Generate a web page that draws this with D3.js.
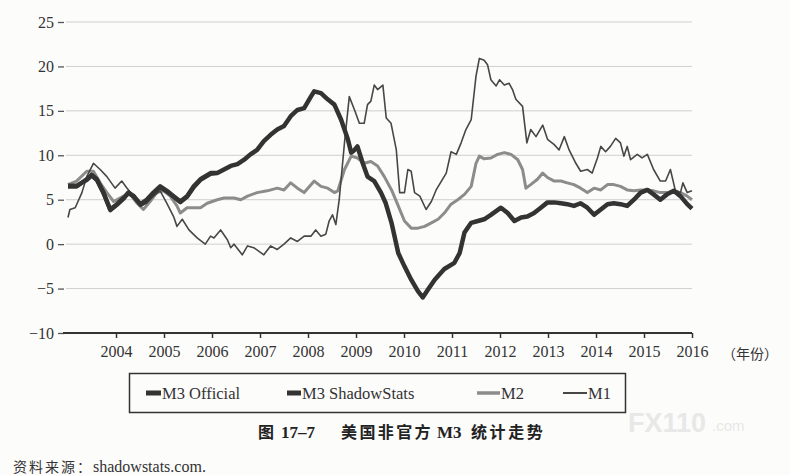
<!DOCTYPE html>
<html>
<head>
<meta charset="utf-8">
<script src="https://cdn.jsdelivr.net/npm/d3@7"></script>
<style>
  body { margin: 0; background: #fcfcfb; }
  svg { display: block; }
</style>
</head>
<body>
<div id="chart"></div>
<script>
// year ticks on the x axis
var years = [2004, 2005, 2006, 2007, 2008, 2009, 2010, 2011, 2012, 2013, 2014, 2015, 2016];
var yTicks = [25, 20, 15, 10, 5, 0, -5, -10];

// M3 ShadowStats (thick dark) as [decimal year, %]
var shadowDates = [2003.00, 2003.18, 2003.39, 2003.49, 2003.60, 2003.74, 2003.88, 2004.02, 2004.16, 2004.26,
  2004.37, 2004.51, 2004.64, 2004.78, 2004.92, 2005.06, 2005.20, 2005.34, 2005.48, 2005.62,
  2005.76, 2005.97, 2006.11, 2006.25, 2006.39, 2006.53, 2006.67, 2006.80, 2006.94, 2007.08,
  2007.22, 2007.36, 2007.50, 2007.64, 2007.78, 2007.92, 2008.06, 2008.13, 2008.27, 2008.41,
  2008.55, 2008.69, 2008.83, 2008.90, 2008.97, 2009.03, 2009.14, 2009.24, 2009.38, 2009.52,
  2009.62, 2009.74, 2009.88, 2010.01, 2010.15, 2010.29, 2010.39, 2010.50, 2010.64, 2010.84,
  2011.05, 2011.16, 2011.26, 2011.40, 2011.54, 2011.67, 2011.81, 2012.02, 2012.16, 2012.30,
  2012.44, 2012.57, 2012.71, 2012.85, 2012.99, 2013.13, 2013.27, 2013.40, 2013.54, 2013.68,
  2013.82, 2013.96, 2014.10, 2014.24, 2014.37, 2014.51, 2014.65, 2014.79, 2014.93, 2015.07,
  2015.20, 2015.34, 2015.48, 2015.62, 2015.76, 2015.90, 2016.00];
var shadowValues = [6.5, 6.5, 7.3, 7.8, 7.3, 5.8, 3.9, 4.5, 5.2, 5.8,
  5.4, 4.5, 5.0, 5.8, 6.5, 6.0, 5.4, 4.8, 5.4, 6.5,
  7.3, 8.0, 8.0, 8.4, 8.8, 9.0, 9.5, 10.1, 10.6, 11.6,
  12.3, 12.9, 13.3, 14.4, 15.1, 15.3, 16.6, 17.2, 17.0, 16.3,
  15.7, 14.0, 11.8, 10.3, 10.6, 11.0, 9.1, 7.6, 7.1, 5.8,
  4.6, 2.4, -1.0, -2.5, -4.0, -5.3, -6.0, -5.1, -4.0, -2.8,
  -2.1, -1.0, 1.3, 2.4, 2.6, 2.8, 3.3, 4.1, 3.5, 2.6,
  3.0, 3.1, 3.5, 4.1, 4.7, 4.7, 4.6, 4.5, 4.3, 4.6,
  4.1, 3.3, 3.9, 4.5, 4.6, 4.5, 4.3, 5.0, 5.8, 6.1,
  5.6, 5.0, 5.6, 6.0, 5.4, 4.5, 4.0];

// M3 Official stops in early 2006, sits on top of the ShadowStats line
var officialDates = [2003.00, 2003.18, 2003.39, 2003.49, 2003.60, 2003.74, 2003.88, 2004.02, 2004.16, 2004.26,
  2004.37, 2004.51, 2004.64, 2004.78, 2004.92, 2005.06, 2005.20, 2005.34, 2005.48, 2005.62,
  2005.76, 2005.97, 2006.11];
var officialValues = [6.6, 6.6, 7.2, 7.7, 7.2, 5.7, 3.8, 4.4, 5.1, 5.8,
  5.3, 4.4, 4.9, 5.7, 6.4, 5.9, 5.3, 4.7, 5.3, 6.4,
  7.2, 7.9, 8.0];

// M2 (medium grey)
var m2Dates = [2003.00, 2003.18, 2003.39, 2003.53, 2003.67, 2003.81, 2003.95, 2004.16, 2004.30, 2004.44,
  2004.57, 2004.71, 2004.85, 2004.99, 2005.13, 2005.27, 2005.34, 2005.48, 2005.76, 2005.90,
  2006.11, 2006.25, 2006.46, 2006.60, 2006.74, 2006.94, 2007.15, 2007.36, 2007.50, 2007.64,
  2007.78, 2007.92, 2008.13, 2008.27, 2008.41, 2008.55, 2008.62, 2008.76, 2008.90, 2009.03,
  2009.17, 2009.31, 2009.45, 2009.59, 2009.74, 2009.88, 2010.01, 2010.15, 2010.29, 2010.43,
  2010.57, 2010.71, 2010.84, 2010.98, 2011.12, 2011.26, 2011.40, 2011.50, 2011.57, 2011.67,
  2011.81, 2011.95, 2012.09, 2012.23, 2012.37, 2012.47, 2012.54, 2012.64, 2012.78, 2012.89,
  2012.99, 2013.13, 2013.27, 2013.40, 2013.54, 2013.68, 2013.82, 2013.96, 2014.10, 2014.24,
  2014.37, 2014.51, 2014.65, 2014.79, 2014.93, 2015.07, 2015.20, 2015.34, 2015.48, 2015.62,
  2015.76, 2015.90, 2016.00];
var m2Values = [6.7, 7.1, 8.2, 8.2, 6.9, 5.8, 4.8, 5.4, 5.6, 4.6,
  3.9, 4.8, 5.8, 6.0, 5.4, 4.3, 3.5, 4.1, 4.1, 4.6,
  5.0, 5.2, 5.2, 5.0, 5.4, 5.8, 6.0, 6.3, 6.1, 6.9,
  6.3, 5.8, 7.1, 6.5, 6.3, 5.8, 6.0, 8.4, 9.9, 9.7,
  9.1, 9.3, 8.8, 7.6, 6.1, 4.3, 2.6, 1.8, 1.8, 2.0,
  2.4, 2.8, 3.5, 4.5, 5.0, 5.6, 6.5, 9.1, 9.9, 9.6,
  9.7, 10.1, 10.3, 10.1, 9.5, 8.4, 6.3, 6.7, 7.3, 8.0,
  7.5, 7.1, 7.1, 6.9, 6.7, 6.3, 5.8, 6.3, 6.1, 6.7,
  6.7, 6.5, 6.1, 6.0, 6.1, 6.1, 6.0, 5.8, 5.8, 6.0,
  5.8, 5.4, 5.0];

// M1 (thin dark)
var m1Dates = [2003.00, 2003.04, 2003.15, 2003.29, 2003.39, 2003.53, 2003.67, 2003.81, 2003.98, 2004.12,
  2004.23, 2004.37, 2004.51, 2004.64, 2004.78, 2004.92, 2005.06, 2005.20, 2005.27, 2005.38,
  2005.52, 2005.69, 2005.86, 2005.97, 2006.04, 2006.18, 2006.32, 2006.39, 2006.46, 2006.63,
  2006.74, 2006.87, 2007.08, 2007.22, 2007.36, 2007.50, 2007.64, 2007.78, 2007.92, 2008.06,
  2008.16, 2008.27, 2008.37, 2008.44, 2008.51, 2008.58, 2008.65, 2008.76, 2008.86, 2008.97,
  2009.07, 2009.17, 2009.24, 2009.31, 2009.38, 2009.45, 2009.56, 2009.63, 2009.73, 2009.84,
  2009.91, 2010.01, 2010.08, 2010.15, 2010.22, 2010.33, 2010.46, 2010.57, 2010.67, 2010.78,
  2010.88, 2010.98, 2011.09, 2011.19, 2011.29, 2011.40, 2011.50, 2011.57, 2011.67, 2011.74,
  2011.81, 2011.92, 2011.99, 2012.09, 2012.19, 2012.26, 2012.33, 2012.47, 2012.56, 2012.64,
  2012.75, 2012.89, 2012.99, 2013.13, 2013.23, 2013.34, 2013.44, 2013.58, 2013.68, 2013.82,
  2013.92, 2014.03, 2014.10, 2014.20, 2014.30, 2014.41, 2014.51, 2014.58, 2014.65, 2014.72,
  2014.86, 2014.96, 2015.07, 2015.20, 2015.34, 2015.45, 2015.55, 2015.65, 2015.76, 2015.81,
  2015.90, 2016.00];
var m1Values = [3.0, 3.9, 4.1, 5.8, 7.6, 9.1, 8.4, 7.6, 6.3, 7.1,
  6.3, 5.4, 4.3, 4.6, 5.4, 6.0, 4.6, 3.1, 2.0, 2.8,
  1.6, 0.7, 0.0, 0.9, 0.7, 1.6, 0.5, -0.4, 0.0, -1.2,
  -0.2, -0.4, -1.2, -0.2, -0.6, 0.0, 0.7, 0.3, 0.9, 0.9,
  1.6, 0.9, 1.1, 2.6, 3.3, 2.2, 5.0, 11.4, 16.6, 15.1,
  13.6, 13.6, 15.7, 16.1, 17.9, 17.4, 17.9, 14.2, 13.6, 10.6,
  5.8, 5.8, 8.4, 8.2, 5.8, 5.4, 3.9, 4.8, 6.1, 7.1,
  8.0, 10.4, 10.1, 11.4, 12.9, 14.0, 18.9, 20.9, 20.7, 20.2,
  18.5, 17.8, 18.5, 17.9, 18.1, 17.4, 16.3, 15.5, 11.4, 12.9,
  12.1, 13.4, 11.8, 11.2, 10.6, 12.1, 10.6, 9.1, 8.2, 8.4,
  8.0, 9.7, 11.0, 10.4, 11.0, 11.9, 11.4, 9.9, 11.0, 9.5,
  10.1, 9.7, 10.1, 8.4, 7.1, 7.1, 8.4, 6.1, 5.8, 6.9,
  5.8, 6.0];

var legendNames = ['M3 Official', 'M3 ShadowStats', 'M2', 'M1'];

var width = 790, height = 475;
var serif = '"Liberation Serif", "DejaVu Serif", serif';
var cjk = '"Noto Sans CJK SC", sans-serif';

var svg = d3.select('#chart').append('svg')
  .attr('width', width)
  .attr('height', height);

var x = d3.scaleLinear().domain([2004, 2016]).range([116, 692]);
var y = d3.scaleLinear().domain([-10, 25]).range([333, 22]);

function zip(dates, values) {
  return dates.map(function (d, i) { return { t: d, v: values[i] }; });
}

// horizontal grid lines
svg.append('g')
  .selectAll('line')
  .data(yTicks.filter(function (d) { return d > -10; }))
  .enter().append('line')
  .attr('x1', 66).attr('x2', 692)
  .attr('y1', function (d) { return y(d); })
  .attr('y2', function (d) { return y(d); })
  .attr('stroke', '#cfcfcf')
  .attr('stroke-width', 1);

// y axis: labels with a small dash after them
var yAxis = svg.append('g').attr('transform', 'translate(64,0)')
  .call(d3.axisLeft(y).tickValues(yTicks).tickSize(6).tickPadding(4)
    .tickFormat(function (d) { return d < 0 ? '\u2212' + Math.abs(d) : d; }));
yAxis.select('.domain').remove();
yAxis.selectAll('line').attr('stroke', '#555').attr('stroke-width', 1.3);
yAxis.selectAll('text').attr('font-family', serif).attr('font-size', 16).attr('fill', '#333');

// x axis at -10
var xAxis = svg.append('g').attr('transform', 'translate(0,' + y(-10) + ')')
  .call(d3.axisBottom(x).tickValues(years).tickSize(5).tickPadding(8).tickFormat(d3.format('d')));
xAxis.select('.domain').remove();
xAxis.append('line')
  .attr('x1', 63).attr('x2', 692)
  .attr('stroke', '#333').attr('stroke-width', 2.2);
xAxis.selectAll('.tick line').attr('stroke', '#333').attr('stroke-width', 1.5);
xAxis.selectAll('text').attr('font-family', serif).attr('font-size', 16).attr('fill', '#333');

svg.append('text')
  .attr('x', 722).attr('y', 359)
  .attr('font-family', cjk).attr('font-size', 14).attr('fill', '#333')
  .text('（年份）');

var line = d3.line()
  .x(function (d) { return x(d.t); })
  .y(function (d) { return y(d.v); });

var series = [
  { data: zip(m2Dates, m2Values), color: '#8c8c8c', w: 3 },
  { data: zip(m1Dates, m1Values), color: '#474747', w: 1.6 },
  { data: zip(officialDates, officialValues), color: '#3a3a3a', w: 4 },
  { data: zip(shadowDates, shadowValues), color: '#333', w: 4.5 }
];

svg.append('g').selectAll('path')
  .data(series)
  .enter().append('path')
  .attr('d', function (s) { return line(s.data); })
  .attr('fill', 'none')
  .attr('stroke', function (s) { return s.color; })
  .attr('stroke-width', function (s) { return s.w; })
  .attr('stroke-linejoin', 'round');

// legend box
var legend = svg.append('g');
legend.append('rect')
  .attr('x', 129.5).attr('y', 373.5)
  .attr('width', 496).attr('height', 39)
  .attr('fill', 'none').attr('stroke', '#333').attr('stroke-width', 1.5);

var legendItems = [
  { sx: 146, sw: 15, color: '#333', w: 5 },
  { sx: 287, sw: 14, color: '#333', w: 5 },
  { sx: 477, sw: 23, color: '#8c8c8c', w: 3.5 },
  { sx: 563, sw: 24, color: '#333', w: 1.8 }
];
legendItems.forEach(function (it, i) {
  legend.append('line')
    .attr('x1', it.sx).attr('x2', it.sx + it.sw)
    .attr('y1', 393).attr('y2', 393)
    .attr('stroke', it.color).attr('stroke-width', it.w);
  legend.append('text')
    .attr('x', it.sx + it.sw + 1).attr('y', 399)
    .attr('font-family', serif).attr('font-size', 16.5).attr('fill', '#333')
    .text(legendNames[i]);
});

// watermark
svg.append('text')
  .attr('x', 628).attr('y', 432)
  .attr('font-family', '"Liberation Sans", sans-serif').attr('font-weight', 'bold')
  .attr('font-size', 27).attr('fill', '#e8e8e8')
  .text('FX110');
svg.append('text')
  .attr('x', 712).attr('y', 431)
  .attr('font-family', '"Liberation Sans", sans-serif')
  .attr('font-size', 15).attr('fill', '#e8e8e8')
  .text('.com');

// caption: mixed CJK and serif bold pieces
var caption = svg.append('text')
  .attr('y', 438)
  .attr('font-weight', 'bold').attr('font-size', 16).attr('fill', '#222');
[
  { x: 258, t: '图', f: cjk, ls: 0 },
  { x: 281, t: '17–7', f: serif, ls: 0 },
  { x: 341, t: '美国非官方', f: cjk, ls: 2.4 },
  { x: 437, t: 'M3', f: serif, ls: 0 },
  { x: 471, t: '统计走势', f: cjk, ls: 2.6 }
].forEach(function (p) {
  caption.append('tspan')
    .attr('x', p.x).attr('font-family', p.f)
    .attr('font-size', p.f === serif ? 17 : 16)
    .attr('letter-spacing', p.ls)
    .text(p.t);
});

// source line
var source = svg.append('text')
  .attr('x', 13).attr('y', 472)
  .attr('fill', '#333');
source.append('tspan')
  .attr('font-family', cjk).attr('font-size', 14).attr('letter-spacing', 2)
  .text('资料来源：');
source.append('tspan')
  .attr('font-family', serif).attr('font-size', 16)
  .text('shadowstats.com.');
</script>
</body>
</html>
